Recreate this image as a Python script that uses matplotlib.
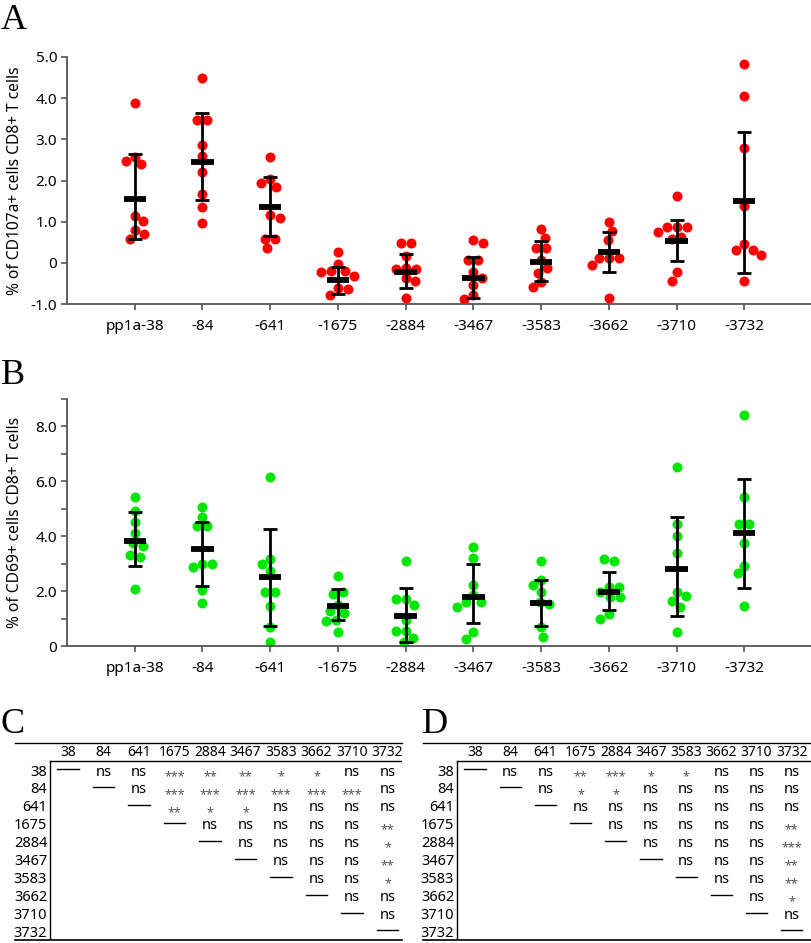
import numpy as np
import matplotlib
matplotlib.use("Agg")
import matplotlib.pyplot as plt

plt.rcParams["font.family"] = ["Noto Sans", "DejaVu Sans"]

# ===================== data =====================
groups = ["pp1a-38", "-84", "-641", "-1675", "-2884", "-3467", "-3583", "-3662", "-3710", "-3732"]

cd107a_points = [
    [3.88, 2.58, 2.47, 2.39, 1.14, 1.01, 0.79, 0.71, 0.58],
    [4.48, 3.46, 3.46, 2.86, 2.60, 2.21, 1.66, 1.35, 0.97],
    [2.58, 2.04, 1.95, 1.84, 1.16, 1.09, 0.59, 0.59, 0.36],
    [0.27, -0.04, -0.21, -0.23, -0.21, -0.32, -0.61, -0.63, -0.77],
    [0.47, 0.47, 0.16, -0.13, -0.15, -0.15, -0.38, -0.43, -0.85],
    [0.55, 0.49, 0.06, 0.06, -0.23, -0.37, -0.54, -0.79, -0.88],
    [0.83, 0.61, 0.35, 0.35, 0.08, -0.12, -0.24, -0.47, -0.59],
    [1.00, 0.77, 0.55, 0.12, 0.12, 0.12, -0.06, -0.85],
    [1.62, 0.87, 0.87, 0.87, 0.75, 0.62, 0.58, -0.23, -0.45],
    [4.82, 4.06, 2.78, 1.38, 0.45, 0.32, 0.32, 0.20, -0.45],
]
cd107a_mean = [1.55, 2.45, 1.36, -0.42, -0.22, -0.37, 0.01, 0.27, 0.54, 1.49]
cd107a_lo = [0.58, 1.52, 0.64, -0.76, -0.61, -0.86, -0.45, -0.23, 0.05, -0.25]
cd107a_hi = [2.65, 3.63, 2.08, -0.09, 0.22, 0.14, 0.53, 0.76, 1.05, 3.18]

cd69_points = [
    [5.44, 4.93, 4.53, 4.13, 3.77, 3.65, 3.32, 3.26, 2.07],
    [5.08, 4.71, 4.39, 4.39, 2.99, 2.98, 2.89, 2.04, 1.58],
    [6.17, 3.17, 2.98, 2.73, 1.97, 1.97, 1.46, 0.68, 0.16],
    [2.56, 1.96, 1.90, 1.50, 1.29, 1.20, 0.95, 0.92, 0.50],
    [3.09, 1.70, 1.70, 1.50, 0.95, 0.56, 0.56, 0.30, 0.13],
    [3.60, 3.20, 2.22, 1.85, 1.62, 1.62, 1.43, 0.50, 0.26],
    [3.10, 2.41, 2.22, 1.98, 1.62, 1.53, 0.68, 0.32],
    [3.16, 3.10, 2.16, 2.16, 1.98, 1.80, 1.77, 1.15, 0.97],
    [6.51, 4.45, 3.99, 3.40, 1.97, 1.82, 1.65, 1.43, 0.50],
    [8.42, 5.44, 4.45, 4.45, 3.74, 2.93, 2.65, 1.46],
]
cd69_mean = [3.82, 3.52, 2.50, 1.47, 1.10, 1.80, 1.57, 1.97, 2.82, 4.12]
cd69_lo = [2.92, 2.20, 0.72, 0.95, 0.13, 0.85, 0.73, 1.31, 1.10, 2.12]
cd69_hi = [4.90, 4.52, 4.28, 2.08, 2.10, 2.98, 2.40, 2.70, 4.70, 6.07]

table_labels = ["38", "84", "641", "1675", "2884", "3467", "3583", "3662", "3710", "3732"]
# upper triangle, row i starts at column i ("—" on the diagonal)
table_c = [
    ["—", "ns", "ns", "***", "**", "**", "*", "*", "ns", "ns"],
    ["—", "ns", "***", "***", "***", "***", "***", "***", "ns"],
    ["—", "**", "*", "*", "ns", "ns", "ns", "ns"],
    ["—", "ns", "ns", "ns", "ns", "ns", "**"],
    ["—", "ns", "ns", "ns", "ns", "*"],
    ["—", "ns", "ns", "ns", "**"],
    ["—", "ns", "ns", "*"],
    ["—", "ns", "ns"],
    ["—", "ns"],
    ["—"],
]
table_d = [
    ["—", "ns", "ns", "**", "***", "*", "*", "ns", "ns", "ns"],
    ["—", "ns", "*", "*", "ns", "ns", "ns", "ns", "ns"],
    ["—", "ns", "ns", "ns", "ns", "ns", "ns", "ns"],
    ["—", "ns", "ns", "ns", "ns", "ns", "**"],
    ["—", "ns", "ns", "ns", "ns", "***"],
    ["—", "ns", "ns", "ns", "**"],
    ["—", "ns", "ns", "**"],
    ["—", "ns", "*"],
    ["—", "ns"],
    ["—"],
]
# ================================================

W, H = 812, 943
fig = plt.figure(figsize=(W / 100, H / 100), dpi=100)


def px_axes(left, top, right, bottom):
    return fig.add_axes([left / W, 1 - bottom / H, (right - left) / W, (bottom - top) / H])


def swarm(vals, ppu, d):
    # simple beeswarm in pixel units, rows of equal height re-centred afterwards
    vals = np.asarray(vals, float)
    ys = vals * ppu
    order = np.argsort(-vals)
    placed = []
    offs = np.zeros(len(vals))
    for k in order:
        y = ys[k]
        cands = [0.0]
        for xo, yo in placed:
            dy = y - yo
            if abs(dy) < d:
                dx = np.sqrt(d * d - dy * dy)
                cands += [xo + dx, xo - dx]
        ok = [c for c in cands
              if all((c - xo) ** 2 + (y - yo) ** 2 >= d * d - 1e-6 for xo, yo in placed)]
        best = min(ok, key=lambda c: (round(abs(c), 3), -c if len(placed) % 2 else c))
        offs[k] = best
        placed.append((best, y))

    done = set()
    for k in range(len(vals)):
        if k in done:
            continue
        row = [m for m in range(len(vals)) if abs(ys[m] - ys[k]) < 2.0]
        done.update(row)
        if len(row) < 2:
            continue
        shift = -np.mean(offs[row])
        trial = offs.copy()
        trial[row] += shift
        others = [m for m in range(len(vals)) if m not in row]
        clash = any((trial[a] - trial[b]) ** 2 + (ys[a] - ys[b]) ** 2 < (0.9 * d) ** 2
                    for a in row for b in others)
        if not clash:
            offs = trial
    return offs


def scatter_panel(ax, points, means, lo, hi, ylim, color, ylabel, yticks, yticklabels):
    ax.set_xlim(-1, 10)
    ax.set_ylim(*ylim)
    bbox = ax.get_position()
    ppx = bbox.width * W / 11.0
    ppy = bbox.height * H / (ylim[1] - ylim[0])
    x = np.arange(len(groups))
    for i, vals in enumerate(points):
        offs = swarm(vals, ppy, 10.0) / ppx
        ax.scatter(x[i] + offs, vals, s=52, color=color, linewidths=0, zorder=2, clip_on=False)
    means = np.array(means)
    ax.errorbar(x, means, yerr=[means - np.array(lo), np.array(hi) - means], fmt="none",
                ecolor="black", elinewidth=2, capsize=4.8, capthick=2, zorder=3)
    ax.hlines(means, x - 0.165, x + 0.165, color="black", lw=4.2, zorder=4)
    for s in ["top", "right"]:
        ax.spines[s].set_visible(False)
    for s in ["left", "bottom"]:
        ax.spines[s].set_color("#555555")
        ax.spines[s].set_linewidth(1.3)
    ax.set_xticks(x)
    ax.set_xticklabels(groups)
    ax.set_yticks(yticks)
    ax.set_yticklabels(yticklabels)
    ax.tick_params(axis="both", direction="out", length=4, width=1.2, color="#555555",
                   labelsize=11, pad=3)
    ax.tick_params(axis="x", pad=7)
    ax.set_ylabel(ylabel, fontsize=11.2)
    ax.yaxis.set_label_coords(-0.059, 0.5)


axA = px_axes(67, 57, 812, 304)
scatter_panel(axA, cd107a_points, cd107a_mean, cd107a_lo, cd107a_hi, (-1, 5), "#ff0000",
              "% of CD107a+ cells CD8+ T cells",
              [-1, 0, 1, 2, 3, 4, 5], ["-1.0", "0", "1.0", "2.0", "3.0", "4.0", "5.0"])

axB = px_axes(67, 399, 812, 646)
scatter_panel(axB, cd69_points, cd69_mean, cd69_lo, cd69_hi, (0, 9), "#00e600",
              "% of CD69+ cells CD8+ T cells",
              list(range(10)), ["0", "", "2.0", "", "4.0", "", "6.0", "", "8.0", ""])


def draw_table(left, right, col0, step, cells):
    top, bottom = 743, 940
    row0, rstep = 772, 17.9
    ax = px_axes(left, top, right, bottom)
    ax.set_xlim((left - col0) / step, (right - col0) / step)
    ax.set_ylim((bottom - row0) / rstep, (top - row0) / rstep)
    ax.axis("off")
    xv = -18 / step  # vertical rule
    yh = (761 - row0) / rstep
    yhead = (752 - row0) / rstep
    ax.plot([0, 1], [1, 1], transform=ax.transAxes, color="black", lw=1, clip_on=False)
    ax.plot([0, 1], [0, 0], transform=ax.transAxes, color="black", lw=1.2, clip_on=False)
    ax.plot([xv, ax.get_xlim()[1]], [yh, yh], color="black", lw=1)
    ax.plot([xv, xv], [yh, ax.get_ylim()[0]], color="black", lw=1)
    for j, lab in enumerate(table_labels):
        ax.text(j, yhead, lab, ha="center", va="center", fontsize=10)
        ax.text(xv - 0.08, j, lab, ha="right", va="center", fontsize=10.5)
    for i, row in enumerate(cells):
        for k, val in enumerate(row):
            j = i + k
            if val == "—":
                ax.plot([j - 0.3, j + 0.3], [i - 0.15, i - 0.15], color="black", lw=1)
            elif val.startswith("*"):
                ax.text(j, i + 0.25, val, ha="center", va="center", fontsize=9, color="#555555")
            else:
                ax.text(j, i, val, ha="center", va="center", fontsize=10.5)


draw_table(15, 402, 68, 35.5, table_c)
draw_table(423, 812, 475, 35.2, table_d)

for lab, xx, yy in [("A", 1, 29), ("B", 1, 384), ("C", 0, 733), ("D", 422, 733)]:
    fig.text(xx / W, 1 - yy / H, lab, fontsize=26, family="Liberation Serif", va="baseline")

fig.savefig("out.png", dpi=100)
